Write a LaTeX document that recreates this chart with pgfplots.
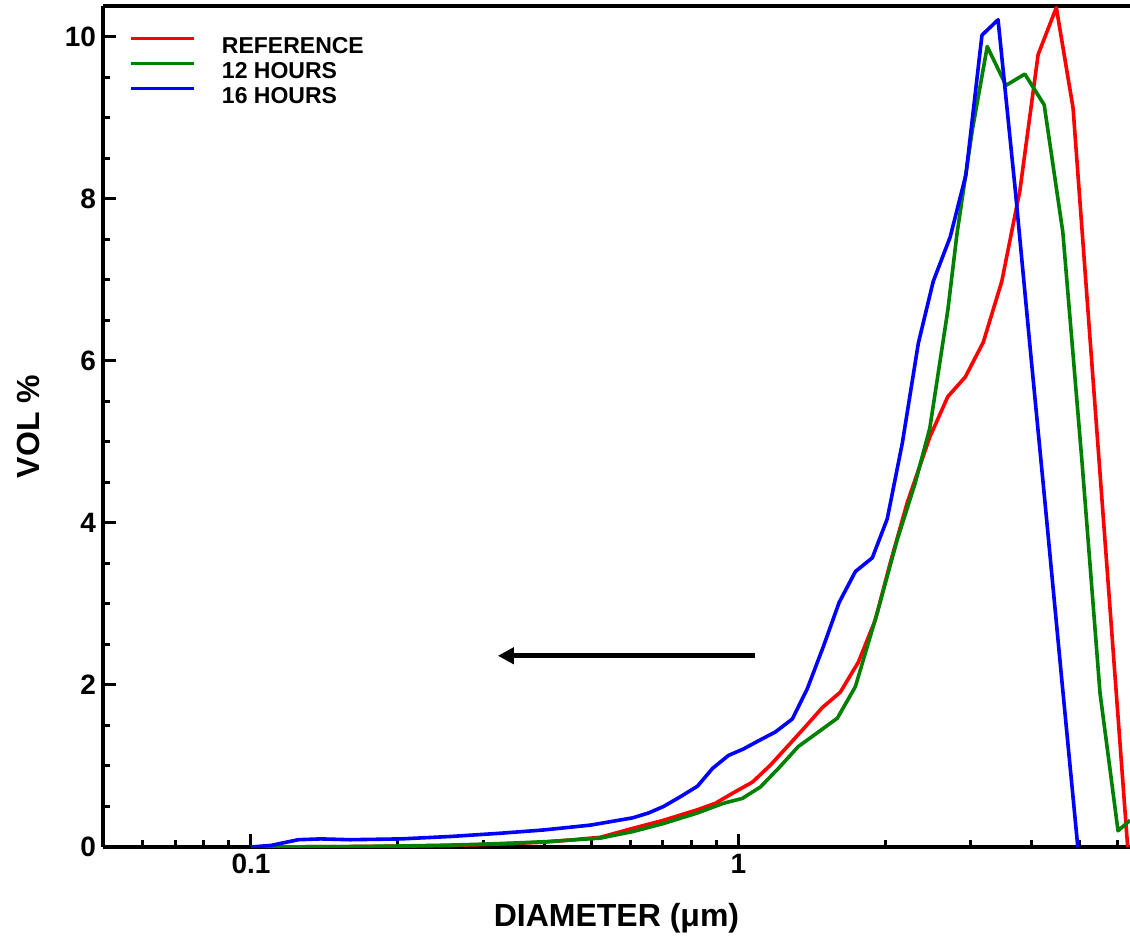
\documentclass[border=0pt]{standalone}
\usepackage{fontspec}
\setmainfont{Liberation Sans}
\usepackage{pgfplots}
\pgfplotsset{compat=1.18}
\usetikzlibrary{arrows.meta}
\definecolor{dgreen}{RGB}{0,128,0}

\begin{document}
\begin{tikzpicture}
\begin{axis}[
    scale only axis,
    width=513.5pt, height=420.5pt,
    xmode=log,
    xmin=0.0497, xmax=6.36,
    ymin=0, ymax=10.38,
    axis x line=box, axis y line=left,
    y axis line style={-},
    every outer y axis line/.append style={-},
    axis line style={line width=1.8pt, black},
    xtick pos=bottom, ytick pos=left,
    xtick={0.1,1}, xticklabels={0.1,1},
    minor xtick={0.06,0.07,0.08,0.09,0.2,0.3,0.4,0.5,0.6,0.7,0.8,0.9,2,3,4,5,6},
    ytick={0,2,4,6,8,10},
    minor y tick num=3,
    major tick length=6.5pt, minor tick length=3.5pt,
    tick style={line width=1.5pt, black},
    tick align=inside,
    /pgf/number format/assume math mode=true,
    tick label style={font=\fontsize{14}{16}\selectfont\bfseries},
    xlabel={DIAMETER (μm)},
    ylabel={VOL \%},
    label style={font=\fontsize{16}{18}\selectfont\bfseries},
    xlabel style={at={(axis description cs:0.5,-0.0844)}, anchor=center},
    ylabel style={at={(axis description cs:-0.073,0.5)}, anchor=center},
    legend style={draw=none, fill=none, at={(axis description cs:0,1)},
        anchor=north west, xshift=10pt, yshift=-12pt,
        font=\fontsize{11.5}{13}\selectfont\bfseries,
        nodes={inner sep=1pt, text height=8.5pt, text depth=2pt},
        /tikz/every odd column/.append style={column sep=12pt}},
    legend image code/.code={\draw[#1] (0pt,4.2pt) -- (31.5pt,4.2pt);},
    legend cell align=left,
    every axis plot/.append style={line width=1.8pt, line join=round},
]
\addplot[red] coordinates {
(0.1,0) (0.15,0.004) (0.2,0.01) (0.25,0.018) (0.3,0.03) (0.35,0.045) (0.4,0.06) (0.45,0.085)
(0.521,0.12) (0.607,0.23) (0.702,0.33) (0.824,0.46) (0.897,0.54) (0.977,0.67) (1.068,0.80)
(1.163,1.01) (1.278,1.28) (1.384,1.51) (1.486,1.72) (1.618,1.91) (1.762,2.28) (1.909,2.80)
(2.05,3.51) (2.22,4.25) (2.47,5.06) (2.69,5.56) (2.92,5.80) (3.18,6.23) (3.47,6.98) (3.78,8.1)
(4.12,9.78) (4.49,10.36) (4.86,9.12) (5.26,6.31) (5.70,3.48) (6.29,0)
};
\addlegendentry{REFERENCE}
\addplot[dgreen] coordinates {
(0.1,0) (0.15,0.004) (0.2,0.012) (0.25,0.022) (0.3,0.035) (0.35,0.05) (0.4,0.065) (0.45,0.085)
(0.521,0.11) (0.607,0.19) (0.702,0.29) (0.824,0.42) (0.932,0.54) (1.019,0.60) (1.109,0.74)
(1.208,0.97) (1.327,1.24) (1.452,1.41) (1.596,1.59) (1.738,1.98) (1.927,2.89) (2.117,3.79)
(2.305,4.49) (2.47,5.17) (2.69,6.63) (2.81,7.58) (3.02,8.85) (3.24,9.88) (3.54,9.40)
(3.87,9.54) (4.24,9.16) (4.63,7.59) (5.07,4.75) (5.52,1.9) (6.01,0.2) (6.36,0.33)
};
\addlegendentry{12 HOURS}
\addplot[blue] coordinates {
(0.1,0) (0.11,0.02) (0.125,0.09) (0.139,0.1) (0.16,0.09) (0.203,0.1) (0.257,0.13) (0.325,0.17)
(0.398,0.21) (0.497,0.27) (0.607,0.36) (0.654,0.42) (0.702,0.5) (0.760,0.62) (0.824,0.75)
(0.885,0.97) (0.954,1.13) (1.024,1.21) (1.099,1.31) (1.191,1.42) (1.290,1.58) (1.384,1.95)
(1.493,2.47) (1.610,3.02) (1.738,3.40) (1.883,3.57) (2.02,4.05) (2.17,4.99) (2.34,6.22)
(2.51,6.98) (2.72,7.53) (2.93,8.3) (3.16,10.02) (3.41,10.21) (3.70,8.1) (3.97,6.15)
(4.28,4.1) (4.61,2.05) (4.97,0)
};
\addlegendentry{16 HOURS}
\draw[line width=2.4pt, -{Triangle[length=8pt,width=8pt]}]
    (axis cs:1.083,2.36) -- (axis cs:0.321,2.36);
\end{axis}
\pgfresetboundingbox
\path (current axis.south west) +(-51.5pt,-45.5pt) (current axis.north east) +(0pt,3pt);
\end{tikzpicture}
\end{document}
